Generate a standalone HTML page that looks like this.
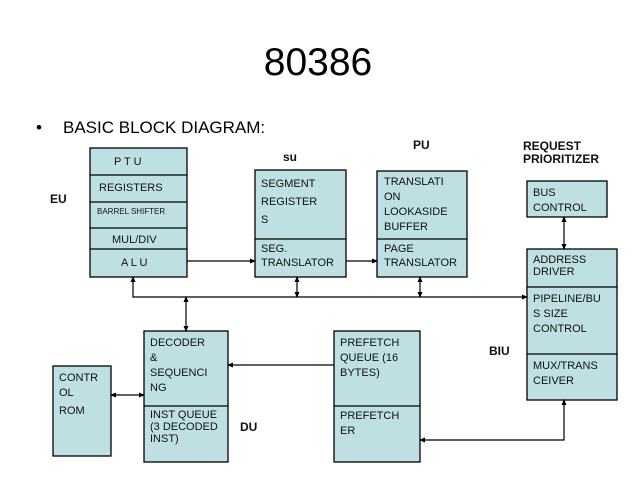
<!DOCTYPE html>
<html><head><meta charset="utf-8"><style>
body{margin:0;background:#fff;}
svg{display:block;font-family:"Liberation Sans",sans-serif;}
.b{fill:#bfe0e3;stroke:#000;stroke-width:1.3;}
.t{font-size:11px;fill:#111;}
.l{font-size:12px;font-weight:bold;fill:#111;}
line,polyline{stroke:#000;stroke-width:1.2;fill:none;}
</style></head><body>
<svg width="638" height="479" viewBox="0 0 638 479">
<defs><marker id="a" markerWidth="6" markerHeight="6" refX="5" refY="3" orient="auto-start-reverse" markerUnits="userSpaceOnUse"><path d="M0,0.5 L6,3 L0,5.5z" fill="#000"/></marker></defs>
<text x="318" y="75" font-size="39" text-anchor="middle">80386</text>
<text x="36" y="133" font-size="17">•</text>
<text x="63" y="133" font-size="17">BASIC BLOCK DIAGRAM:</text>

<rect class="b" x="90" y="148" width="97" height="129"/>
<line x1="90" y1="175" x2="187" y2="175"/><line x1="90" y1="202" x2="187" y2="202"/>
<line x1="90" y1="228" x2="187" y2="228"/><line x1="90" y1="249" x2="187" y2="249"/>
<text class="t" x="114" y="165">P T U</text>
<text class="t" x="99" y="191" font-size="12">REGISTERS</text>
<text x="97" y="214" font-size="8" fill="#111">BARREL SHIFTER</text>
<text class="t" x="112" y="243" font-size="10">MUL/DIV</text>
<text class="t" x="121" y="266">A L U</text>
<text class="l" x="50" y="203">EU</text>

<text class="l" x="283" y="161">su</text>
<rect class="b" x="255" y="170" width="91" height="107"/>
<line x1="255" y1="239" x2="346" y2="239"/>
<text class="t" x="261" y="187" font-size="14">SEGMENT</text><text class="t" x="261" y="205" font-size="14">REGISTER</text><text class="t" x="261" y="223" font-size="14">S</text>
<text class="t" x="261" y="252" font-size="10">SEG.</text><text class="t" x="261" y="266" font-size="10">TRANSLATOR</text>

<text class="l" x="413" y="149">PU</text>
<rect class="b" x="377" y="171" width="90" height="106"/>
<line x1="377" y1="239" x2="467" y2="239"/>
<text class="t" x="384" y="185" font-size="10">TRANSLATI</text><text class="t" x="384" y="200" font-size="10">ON</text>
<text class="t" x="384" y="215" font-size="10">LOOKASIDE</text><text class="t" x="384" y="230" font-size="10">BUFFER</text>
<text class="t" x="384" y="252" font-size="10">PAGE</text><text class="t" x="384" y="266" font-size="10">TRANSLATOR</text>

<text class="l" x="523" y="150" font-size="11">REQUEST</text>
<text class="l" x="523" y="163" font-size="11">PRIORITIZER</text>
<rect class="b" x="527" y="181" width="80" height="36"/>
<text class="t" x="533" y="196" font-size="10">BUS</text><text class="t" x="533" y="211" font-size="10">CONTROL</text>
<rect class="b" x="527" y="249" width="90" height="151"/>
<line x1="527" y1="287" x2="617" y2="287"/><line x1="527" y1="354" x2="617" y2="354"/>
<text class="t" x="533" y="263" font-size="10">ADDRESS</text><text class="t" x="533" y="275" font-size="10">DRIVER</text>
<text class="t" x="533" y="302">PIPELINE/BU</text><text class="t" x="533" y="317">S SIZE</text><text class="t" x="533" y="332">CONTROL</text>
<text class="t" x="533" y="369">MUX/TRANS</text><text class="t" x="533" y="384">CEIVER</text>
<text class="l" x="489" y="355">BIU</text>

<rect class="b" x="144" y="331" width="84" height="131"/>
<line x1="144" y1="406" x2="228" y2="406"/>
<text class="t" x="150" y="346" font-size="10">DECODER</text><text class="t" x="150" y="361" font-size="10">&amp;</text>
<text class="t" x="150" y="376" font-size="10">SEQUENCI</text><text class="t" x="150" y="391" font-size="10">NG</text>
<text class="t" x="150" y="418" font-size="9">INST QUEUE</text><text class="t" x="150" y="430" font-size="9">(3 DECODED</text><text class="t" x="150" y="442" font-size="9">INST)</text>
<text class="l" x="240" y="431">DU</text>

<rect class="b" x="53" y="366" width="58" height="90"/>
<text class="t" x="59" y="381" font-size="10">CONTR</text><text class="t" x="59" y="396" font-size="10">OL</text><text class="t" x="59" y="414" font-size="10">ROM</text>

<rect class="b" x="334" y="331" width="86" height="131"/>
<line x1="334" y1="406" x2="420" y2="406"/>
<text class="t" x="340" y="346" font-size="10">PREFETCH</text><text class="t" x="340" y="361" font-size="10">QUEUE (16</text><text class="t" x="340" y="376" font-size="10">BYTES)</text>
<text class="t" x="340" y="419" font-size="10">PREFETCH</text><text class="t" x="340" y="434" font-size="10">ER</text>

<line x1="187" y1="261" x2="255" y2="261" marker-end="url(#a)"/>
<line x1="346" y1="261" x2="377" y2="261" marker-end="url(#a)"/>
<polyline points="133,277 133,297 527,297" marker-start="url(#a)" marker-end="url(#a)"/>
<line x1="297" y1="277" x2="297" y2="297" marker-start="url(#a)" marker-end="url(#a)"/>
<line x1="420" y1="277" x2="420" y2="297" marker-start="url(#a)" marker-end="url(#a)"/>
<line x1="186" y1="297" x2="186" y2="331" marker-start="url(#a)" marker-end="url(#a)"/>
<line x1="564" y1="217" x2="564" y2="249" marker-start="url(#a)" marker-end="url(#a)"/>
<line x1="111" y1="395" x2="144" y2="395" marker-start="url(#a)" marker-end="url(#a)"/>
<line x1="334" y1="365" x2="228" y2="365" marker-end="url(#a)"/>
<polyline points="564,400 564,440 420,440" marker-start="url(#a)" marker-end="url(#a)"/>
</svg>
</body></html>
